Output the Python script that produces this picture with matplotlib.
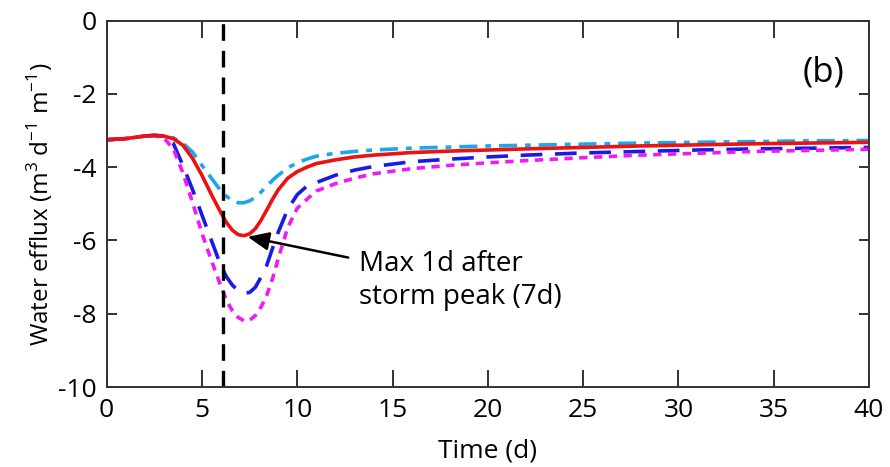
import matplotlib
matplotlib.use("Agg")
import matplotlib.pyplot as plt

plt.rcParams['font.family'] = ['Open Sans', 'DejaVu Sans']
plt.rcParams['mathtext.fontset'] = 'custom'
plt.rcParams['mathtext.rm'] = 'Open Sans'
plt.rcParams['axes.unicode_minus'] = False

# Time axis (days)
t = [0, 1, 2, 2.5, 3, 3.5, 4, 4.5, 5, 5.5, 6, 6.3, 6.6, 6.9, 7.2, 7.5, 7.8, 8.1,
     8.4, 8.7, 9, 9.5, 10, 10.5, 11, 12, 13, 14, 16, 18, 20, 22, 25, 28, 31,
     34, 37, 40]

# Water efflux series (m^3 d^-1 m^-1)
efflux_cyan = [-3.25, -3.22, -3.15, -3.13, -3.14, -3.20, -3.35, -3.58, -3.95, -4.30,
               -4.65, -4.80, -4.91, -4.97, -4.97, -4.92, -4.82, -4.68, -4.52, -4.36,
               -4.22, -4.02, -3.88, -3.78, -3.70, -3.62, -3.57, -3.53, -3.48, -3.45,
               -3.42, -3.40, -3.37, -3.34, -3.32, -3.30, -3.28, -3.27]
efflux_red = [-3.25, -3.22, -3.15, -3.13, -3.15, -3.22, -3.40, -3.75, -4.22, -4.75,
              -5.25, -5.52, -5.72, -5.84, -5.87, -5.82, -5.68, -5.45, -5.17, -4.88,
              -4.62, -4.30, -4.12, -4.00, -3.90, -3.80, -3.72, -3.67, -3.60, -3.56,
              -3.53, -3.50, -3.46, -3.42, -3.39, -3.36, -3.34, -3.32]
efflux_blue = [-3.25, -3.22, -3.15, -3.13, -3.16, -3.35, -3.95, -4.60, -5.30, -6.00,
               -6.70, -7.00, -7.22, -7.37, -7.44, -7.42, -7.28, -7.00, -6.68, -6.22,
               -5.78, -5.15, -4.75, -4.52, -4.42, -4.22, -4.08, -3.98, -3.85, -3.78,
               -3.72, -3.67, -3.61, -3.57, -3.53, -3.50, -3.48, -3.46]
efflux_magenta = [-3.25, -3.22, -3.15, -3.14, -3.20, -3.50, -4.15, -4.95, -5.80, -6.55,
                  -7.25, -7.65, -7.92, -8.10, -8.19, -8.18, -8.05, -7.82, -7.50, -7.05,
                  -6.50, -5.65, -5.12, -4.88, -4.65, -4.45, -4.30, -4.18, -4.04, -3.95,
                  -3.88, -3.82, -3.74, -3.67, -3.62, -3.57, -3.54, -3.51]

storm_peak = 6.1
peak_time, peak_value = 7.4, -5.9

xticks = [0, 5, 10, 15, 20, 25, 30, 35, 40]
yticks = [0, -2, -4, -6, -8, -10]

fig = plt.figure(figsize=(8.9, 4.67), dpi=100)
ax = fig.add_axes([0.1198, 0.1713, 0.8566, 0.7844])

ax.plot(t, efflux_cyan, color='#1aa7ec', lw=2.6, dashes=(5, 2.2, 1.6, 2.2))
ax.plot(t, efflux_blue, color='#1a1ae6', lw=2.6, dashes=(6, 3.5))
ax.plot(t, efflux_magenta, color='#f21af2', lw=2.6, dashes=(2.3, 1.8))
ax.plot(t, efflux_red, color='#ee1111', lw=2.6)
ax.axvline(storm_peak, color='black', lw=2.4, dashes=(5, 3))

ax.annotate('Max 1d after\nstorm peak (7d)', xy=(peak_time, peak_value),
            xytext=(13.25, -7.1), fontsize=20, ha='left', va='center',
            linespacing=1.25,
            arrowprops=dict(arrowstyle='-|>,head_length=0.65,head_width=0.28',
                            color='black', lw=1.8, shrinkA=6, shrinkB=0))
ax.text(37.6, -1.42, '(b)', fontsize=25, ha='center', va='center')

ax.set_xlim(0, 40)
ax.set_ylim(-10, 0)
ax.set_xticks(xticks)
ax.set_yticks(yticks)
ax.tick_params(axis='both', direction='in', labelsize=19, width=1.3,
               top=True, right=True, colors='#222222', labelcolor='black')
ax.tick_params(axis='x', length=12, pad=8)
ax.tick_params(axis='y', length=7, pad=7)
for s in ax.spines.values():
    s.set_linewidth(1.4)
    s.set_color('#333333')

ax.set_xlabel('Time (d)', fontsize=19, labelpad=11)
ax.set_ylabel('Water efflux (m$^3$ d$^{-1}$ m$^{-1}$)', fontsize=17.5, labelpad=2)

fig.savefig('out.png', dpi=100)
